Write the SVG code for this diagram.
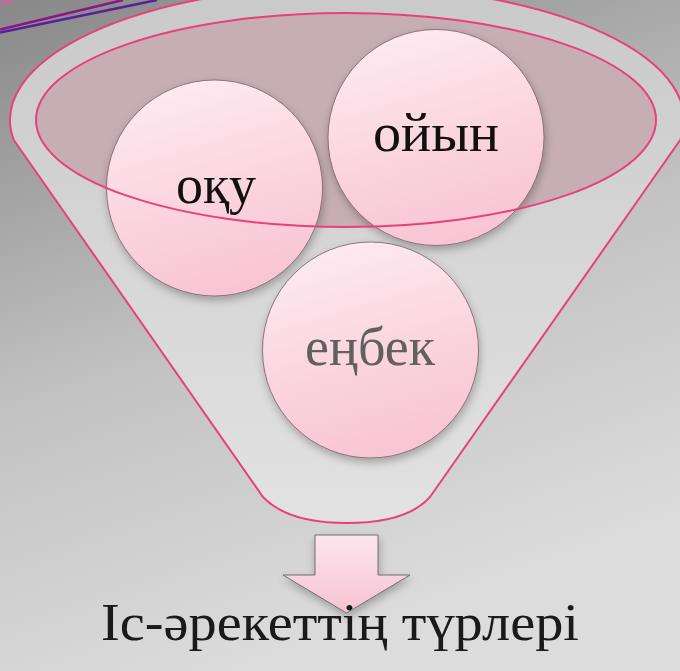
<svg xmlns="http://www.w3.org/2000/svg" width="680" height="671" viewBox="0 0 680 671">
  <defs>
    <linearGradient id="bg" x1="0" y1="0" x2="0.35" y2="1">
      <stop offset="0" stop-color="#888888"/>
      <stop offset="0.55" stop-color="#c2c2c2"/>
      <stop offset="1" stop-color="#dcdcdc"/>
    </linearGradient>
    <linearGradient id="funnelFill" x1="0" y1="0" x2="0" y2="1">
      <stop offset="0" stop-color="#c9c9c9"/>
      <stop offset="0.5" stop-color="#d6d6d6"/>
      <stop offset="1" stop-color="#e2e2e2"/>
    </linearGradient>
    <linearGradient id="pinkBall" x1="0.3" y1="0" x2="0.6" y2="1">
      <stop offset="0" stop-color="#fdebf1"/>
      <stop offset="0.6" stop-color="#fbd2de"/>
      <stop offset="1" stop-color="#f8c4d4"/>
    </linearGradient>
    <linearGradient id="arrowFill" x1="0" y1="0" x2="0" y2="1">
      <stop offset="0" stop-color="#fde6ee"/>
      <stop offset="1" stop-color="#f6c2d2"/>
    </linearGradient>
    <filter id="shadow" x="-20%" y="-20%" width="140%" height="150%">
      <feDropShadow dx="1" dy="4" stdDeviation="4" flood-color="#000" flood-opacity="0.28"/>
    </filter>
    <style>
      .ball { fill: url(#pinkBall); stroke: #7a5a65; stroke-width: 0.8; filter: url(#shadow); }
      .lbl { font-family: "Liberation Serif", "DejaVu Serif", serif; font-size: 54px; text-anchor: middle; fill: #111; }
      .funnel { fill: url(#funnelFill); stroke: #e8407c; stroke-width: 2; }
      .rim { stroke: #e8407c; stroke-width: 2; }
    </style>
  </defs>

  <rect x="0" y="0" width="680" height="671" fill="url(#bg)"/>

  <g id="deco-lines" fill="none">
    <line x1="0" y1="29.5" x2="123" y2="0" stroke="#8a148a" stroke-width="2.5"/>
    <line x1="0" y1="32.5" x2="157" y2="0" stroke="#55209a" stroke-width="2.5"/>
    <line x1="0" y1="4" x2="14" y2="0" stroke="#d060a8" stroke-width="2.5"/>
  </g>

  <g id="funnel">
    <path class="funnel" d="M 13.8,140 L 263,497 C 280,515 310,523 347,523 C 384,523 414,515 430,497 L 680.2,140 A 337 134 0 1 0 13.8,140 Z"/>
    <ellipse id="rim-fill" cx="346" cy="120" rx="310" ry="107" fill="#c6aeb4"/>
  </g>

  <g id="node-oku">
    <circle class="ball" cx="214.5" cy="188" r="108"/>
    <text class="lbl" x="216" y="203">оқу</text>
  </g>

  <g id="node-oiyn">
    <circle class="ball" cx="436" cy="137.5" r="108"/>
    <text class="lbl" x="436" y="151" textLength="126" lengthAdjust="spacingAndGlyphs">ойын</text>
  </g>

  <g id="node-enbek">
    <circle class="ball" cx="370.5" cy="350" r="108"/>
    <text class="lbl" x="370" y="365" style="fill:#606060">еңбек</text>
  </g>

  <g id="rim-outline">
    <ellipse class="rim" cx="346" cy="120" rx="310" ry="107" fill="none"/>
  </g>

  <g id="connectors">
    <polygon points="315,535 378,535 378,575 410,575 346.5,613 283,575 315,575" fill="url(#arrowFill)" stroke="#6e6e6e" stroke-width="1" filter="url(#shadow)"/>
  </g>

  <g id="title">
    <text x="340" y="640" textLength="478" lengthAdjust="spacingAndGlyphs" style="font-family:'Liberation Serif','DejaVu Serif',serif;font-size:52px;fill:#1a1a1a;text-anchor:middle">Іс-әрекеттің түрлері</text>
  </g>
</svg>
